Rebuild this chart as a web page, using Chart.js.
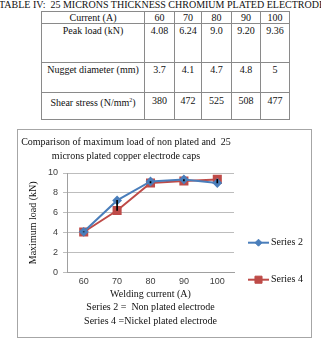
<!DOCTYPE html>
<html>
<head>
<meta charset="utf-8">
<script src="https://cdn.jsdelivr.net/npm/chart.js@4/dist/chart.umd.min.js"></script>
<style>
  body { margin: 0; width: 321px; height: 339px; background: #fff; position: relative; overflow: hidden; font-family: "Liberation Serif", serif; }
  #tblTitle { position: absolute; left: -40px; width: 404px; top: -1px; text-align: center; white-space: nowrap; font-size: 10px; font-weight: normal; color: #111; }
  table { position: absolute; left: 41px; top: 11px; border-collapse: collapse; font-size: 10px; color: #111; }
  td { border: 1px solid #8a8a8a; text-align: center; vertical-align: top; padding: 0; line-height: 11px; }
  #box { position: absolute; left: 17px; top: 129px; width: 293px; height: 207px; border: 1px solid #a6a6a6; }
  #box canvas { position: absolute; left: 0; top: 0; }
</style>
</head>
<body>
<div id="tblTitle">TABLE IV:&nbsp; 25 MICRONS THICKNESS CHROMIUM PLATED ELECTRODE</div>
<table id="tbl"></table>
<div id="box"><canvas id="loadChart" width="293" height="207"></canvas></div>
<script>
// table data
const currents = ['60', '70', '80', '90', '100'];
const peakLoad = ['4.08', '6.24', '9.0', '9.20', '9.36'];
const nuggetDia = ['3.7', '4.1', '4.7', '4.8', '5'];
const shearStress = ['380', '472', '525', '508', '477'];

// chart data
const series2 = [4.1, 7.25, 9.15, 9.35, 9.0];
const series4 = [4.08, 6.24, 9.0, 9.2, 9.36];
const yTicks = [0, 2, 4, 6, 8, 10];

const blue = '#4a7ebb';
const red = '#be4b48';

// build the table
function buildTable() {
    const rows = [
        ['Current (A)', currents, 11, 0],
        ['Peak load (kN)', peakLoad, 38, 1],
        ['Nugget diameter (mm)', nuggetDia, 29, 1],
        ['Shear stress (N/mm<sup style="font-size:6px">2</sup>)', shearStress, 26, 2]
    ];
    const widths = [102, 29, 26, 29, 28, 28];
    const tbl = document.getElementById('tbl');
    rows.forEach(r => {
        const tr = document.createElement('tr');
        const cells = [r[0]].concat(r[1]);
        cells.forEach((c, i) => {
            const td = document.createElement('td');
            td.innerHTML = c;
            td.style.width = widths[i] + 'px';
            td.style.height = (r[2] - r[3]) + 'px';
            td.style.paddingTop = r[3] + 'px';
            tr.appendChild(td);
        });
        tbl.appendChild(tr);
    });
}

// small legend on the right, line + marker + text
const sideLegend = {
    id: 'sideLegend',
    afterDraw(chart) {
        const ctx = chart.ctx;
        const area = chart.chartArea;
        const offs = [-30, 7];
        let k = 0;
        chart.data.datasets.forEach(ds => {
            if (ds.type !== 'line') return;
            const x0 = area.right + 14;
            const y = area.bottom + offs[k++];
            ctx.save();
            ctx.strokeStyle = ds.borderColor;
            ctx.lineWidth = 2;
            ctx.beginPath();
            ctx.moveTo(x0, y);
            ctx.lineTo(x0 + 21, y);
            ctx.stroke();
            ctx.fillStyle = ds.pointBackgroundColor;
            ctx.strokeStyle = ds.pointBorderColor;
            ctx.lineWidth = 1;
            Chart.helpers.drawPoint(ctx, { pointStyle: ds.pointStyle, radius: ds.pointRadius, borderWidth: 1 }, x0 + 10.5, y);
            ctx.fillStyle = '#111';
            ctx.font = '10px "Liberation Serif"';
            ctx.textBaseline = 'middle';
            ctx.fillText(ds.label, x0 + 23, y);
            ctx.restore();
        });
    }
};

function initChart() {
    const ctx = document.getElementById('loadChart').getContext('2d');
    new Chart(ctx, {
        data: {
            labels: currents,
            datasets: [{
                type: 'bar',
                label: 'high-low',
                data: series2.map((v, i) => [Math.min(v, series4[i]), Math.max(v, series4[i])]),
                backgroundColor: '#000',
                barThickness: 1,
                order: 0
            }, {
                type: 'line',
                label: 'Series 2',
                data: series2,
                borderColor: blue,
                backgroundColor: blue,
                pointBackgroundColor: blue,
                pointBorderColor: blue,
                pointStyle: 'rectRot',
                pointRadius: 3.5,
                borderWidth: 2,
                tension: 0,
                order: 1
            }, {
                type: 'line',
                label: 'Series 4',
                data: series4,
                borderColor: red,
                backgroundColor: red,
                pointBackgroundColor: red,
                pointBorderColor: red,
                pointStyle: 'rect',
                pointRadius: 5,
                borderWidth: 2,
                tension: 0,
                order: 2
            }]
        },
        options: {
            responsive: false,
            maintainAspectRatio: false,
            animation: false,
            layout: { padding: { left: 0, right: 77, top: 0, bottom: 0 } },
            scales: {
                x: {
                    offset: true,
                    grid: { display: false, drawTicks: false, tickLength: 0 },
                    border: { color: '#a0a0a0' },
                    ticks: { color: '#404040', font: { family: 'Liberation Sans', size: 9 }, padding: 3 },
                    title: {
                        display: true,
                        text: ['Welding current (A)', 'Series 2 =  Non plated electrode', 'Series 4 =Nickel plated electrode'],
                        color: '#111',
                        font: { family: 'Liberation Serif', size: 10, lineHeight: 1.35 },
                        padding: { top: -2, bottom: 9 }
                    }
                },
                y: {
                    min: 0,
                    max: 10,
                    afterBuildTicks: axis => { axis.ticks = yTicks.map(v => ({ value: v })); },
                    grid: { color: '#bdbdbd', tickLength: 4 },
                    border: { color: '#a0a0a0' },
                    ticks: { color: '#404040', font: { family: 'Liberation Sans', size: 9 }, padding: 5 },
                    title: {
                        display: true,
                        text: 'Maximum load (kN)',
                        color: '#111',
                        font: { family: 'Liberation Serif', size: 10 },
                        padding: { top: 9, bottom: 4 }
                    }
                }
            },
            plugins: {
                legend: { display: false },
                tooltip: { enabled: false },
                title: {
                    display: true,
                    text: ['Comparison of maximum load of non plated and  25', 'microns plated copper electrode caps'],
                    color: '#111',
                    font: { family: 'Liberation Serif', size: 10, weight: 'normal', lineHeight: 1.4 },
                    padding: { top: 5, bottom: 10 }
                }
            }
        },
        plugins: [sideLegend]
    });
}

buildTable();
window.addEventListener('load', initChart);
</script>
</body>
</html>
